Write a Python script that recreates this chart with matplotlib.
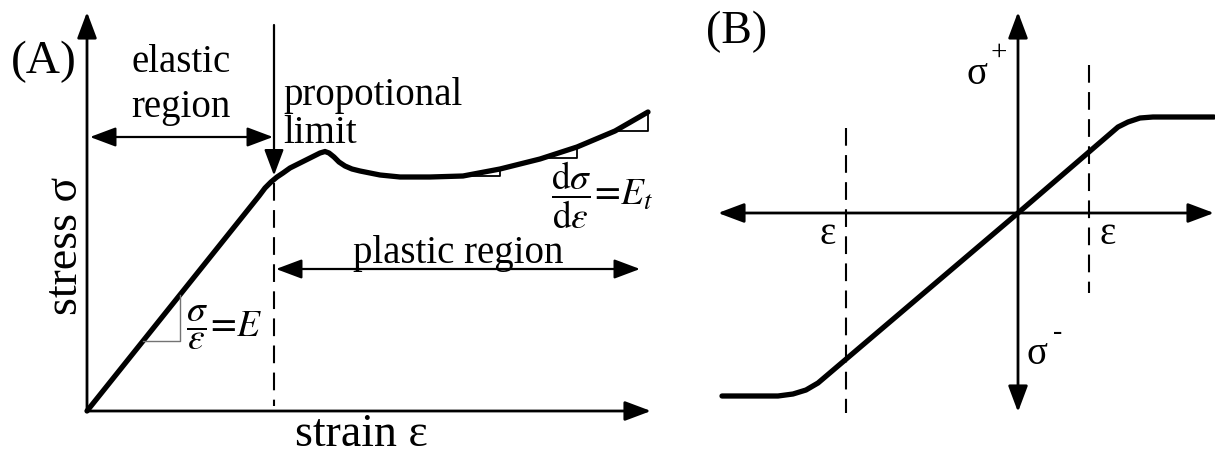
import numpy as np
import matplotlib
matplotlib.use('Agg')
import matplotlib.pyplot as plt

#FONTS

plt.rcParams['font.family'] = ['Liberation Serif', 'DejaVu Serif']
plt.rcParams['mathtext.fontset'] = 'stix'

#DATA

#(A) stress-strain curve, origin at the axes crossing
strain_a = [0, 172, 178, 184, 190, 196, 203, 211, 219, 227, 233, 238, 242, 247, 252, 258, 265,
            273, 293, 313, 343, 376, 413, 453, 490, 528, 561]
stress_a = [0, 215, 223, 229, 234, 238, 243, 247, 251, 255, 258, 259.5, 258, 254, 249, 245, 242,
            240, 236, 234, 234, 235, 242, 252, 264, 280, 299]

#proportional limit and elastic slope triangle
prop_limit = 187
elastic_tri = (56, 93)
#tangent triangles along the plastic part
tangent_tris = [(376, 413), (456, 490), (528, 561)]

#(B) symmetric material law, origin at the axes crossing
strain_b = [-296, -240, -225, -212, -200, 0, 100, 110, 122, 135, 196]
stress_b = [-183, -183, -181, -177, -170, 0, 86, 91, 95, 96, 96]
eps_limits = [-172, 71]

#HELPERS

def arrow(ax, tail, tip, lw=2.0, both=False):
    style = '<|-|>' if both else '-|>'
    ax.annotate('', xy=tip, xytext=tail,
                arrowprops=dict(arrowstyle=style + ',head_length=0.8,head_width=0.3',
                                lw=lw, color='k', shrinkA=0, shrinkB=0,
                                mutation_scale=20))

def on_curve(x):
    return np.interp(x, strain_a, stress_a)

#FIGURE

fig = plt.figure(figsize=(12.15, 4.54), dpi=100)

#PANEL A
ax = fig.add_axes([0, 0, 700 / 1215, 1])
ax.set_xlim(-87, 613)
ax.set_ylim(-43, 411)
ax.axis('off')

arrow(ax, (0, 0), (0, 399))
arrow(ax, (0, 0), (564, 0))

ax.plot(strain_a, stress_a, color='k', lw=3.8, solid_joinstyle='round', solid_capstyle='round')

#elastic slope triangle
x0, x1 = elastic_tri
ax.plot([x0, x1, x1], [on_curve(x0), on_curve(x0), on_curve(x1)], color='0.45', lw=1.0)

#tangent triangles
for x0, x1 in tangent_tris:
    ax.plot([x0, x1, x1], [on_curve(x0), on_curve(x0), on_curve(x1)], color='k', lw=1.3)

#proportional limit marker
ax.plot([prop_limit, prop_limit], [on_curve(prop_limit) - 3, 5], color='k', lw=1.5,
        linestyle=(0, (8.5, 4.5)))
arrow(ax, (prop_limit, 386), (prop_limit, on_curve(prop_limit) + 4), lw=1.6)

#region arrows
arrow(ax, (3, 274), (prop_limit - 1, 274), lw=1.6, both=True)
arrow(ax, (prop_limit + 2, 142), (553, 142), lw=1.6, both=True)

ax.text(-43, 349, '(A)', fontsize=34, ha='center', va='center')
ax.text(94, 339, 'elastic', fontsize=28, ha='center', va='baseline')
ax.text(94, 294, 'region', fontsize=28, ha='center', va='baseline')
ax.text(196, 306, 'propotional', fontsize=28, ha='left', va='baseline')
ax.text(196, 268, 'limit', fontsize=28, ha='left', va='baseline')
ax.text(371, 148, 'plastic region', fontsize=28, ha='center', va='baseline')
ax.text(274, -35, 'strain ε', fontsize=33, ha='center', va='baseline')
ax.text(-10, 165, 'stress σ', fontsize=33, ha='center', va='baseline',
        rotation=90, rotation_mode='anchor')
ax.text(99, 83, r'$\dfrac{\sigma}{\varepsilon}\!=\!E$', fontsize=27, ha='left', va='center')
ax.text(464, 216, r'$\dfrac{\mathrm{d}\sigma}{\mathrm{d}\varepsilon}\!=\!E_t$', fontsize=27,
        ha='left', va='center')

#PANEL B
bx = fig.add_axes([700 / 1215, 0, 515 / 1215, 1])
bx.set_xlim(-318, 197)
bx.set_ylim(-241, 213)
bx.axis('off')

arrow(bx, (0, 0), (196, 0))
arrow(bx, (0, 0), (-300, 0))
arrow(bx, (0, 0), (0, 201))
arrow(bx, (0, 0), (0, -199))

bx.plot(strain_b, stress_b, color='k', lw=3.8, solid_joinstyle='round', solid_capstyle='round')

bx.plot([eps_limits[0]] * 2, [85, -200], color='k', lw=1.5, linestyle=(0, (8.5, 4.5)))
bx.plot([eps_limits[1]] * 2, [148, -80], color='k', lw=1.5, linestyle=(0, (8.5, 4.5)))

bx.text(-281, 181, '(B)', fontsize=33, ha='center', va='center')
bx.text(eps_limits[0] - 18, -22, 'ε', fontsize=28, ha='center', va='center')
bx.text(eps_limits[1] + 19, -22, 'ε', fontsize=28, ha='center', va='center')
bx.text(-41, 138, 'σ', fontsize=28, ha='center', va='center')
bx.text(-19, 160, '+', fontsize=21, ha='center', va='center')
bx.text(19, -142, 'σ', fontsize=28, ha='center', va='center')
bx.text(40, -120, '-', fontsize=20, ha='center', va='center')

plt.savefig('out.png', dpi=100)
plt.close()
